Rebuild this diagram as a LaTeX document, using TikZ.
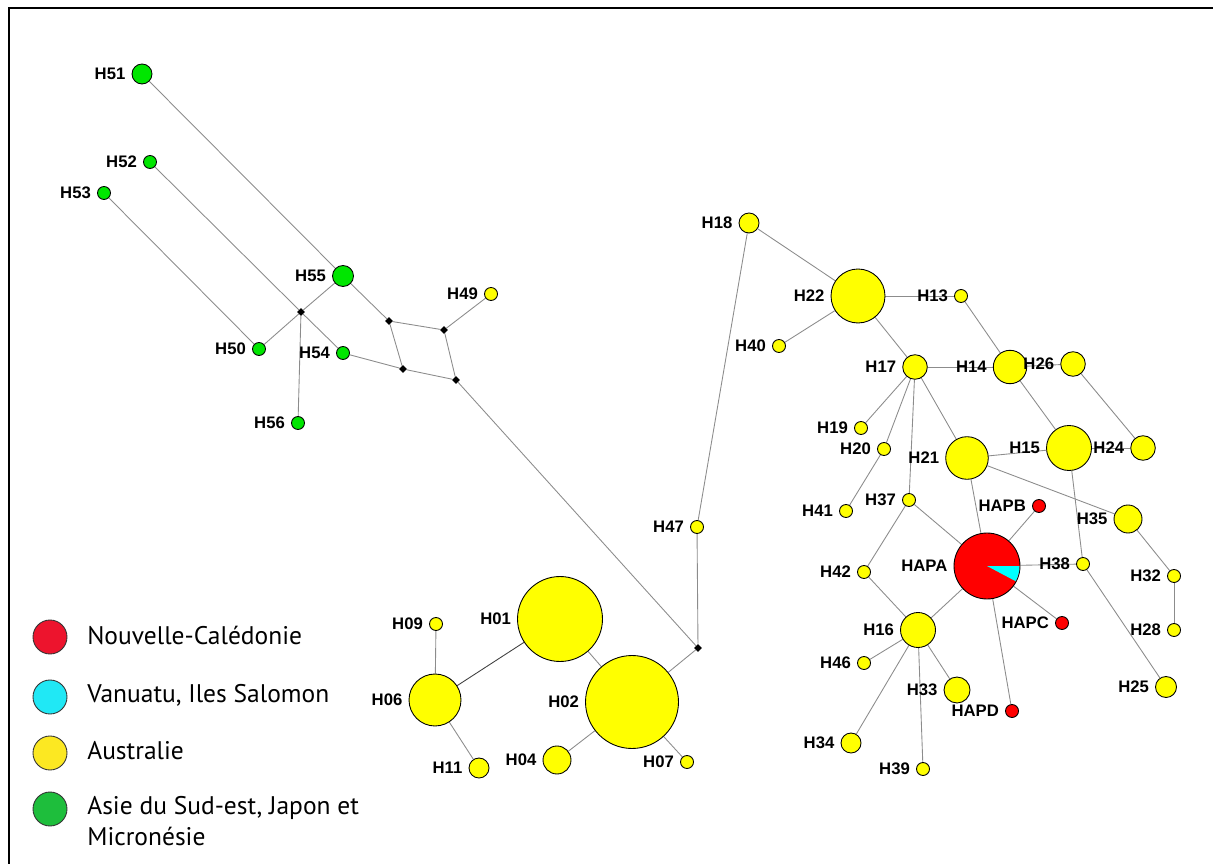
\documentclass[tikz,border=0pt]{standalone}
\usepackage{fontspec}
\setsansfont{Liberation Sans}
\newfontfamily\legendfont{PT Sans}
\usetikzlibrary{shapes.geometric,backgrounds}
\definecolor{hapyellow}{RGB}{255,255,0}
\definecolor{hapgreen}{RGB}{0,230,0}
\definecolor{hapred}{RGB}{255,0,0}
\definecolor{hapcyan}{RGB}{0,255,255}
\definecolor{keyred}{RGB}{237,20,45}
\definecolor{keycyan}{RGB}{32,232,245}
\definecolor{keyyellow}{RGB}{252,232,34}
\definecolor{keygreen}{RGB}{30,190,60}
\definecolor{linkgray}{RGB}{140,140,140}
\begin{document}
\begin{tikzpicture}[x=0.02cm,y=-0.02cm,
    hap/.style={circle,draw=black,line width=0.5pt,inner sep=0pt,minimum size=#1*0.4mm},
    aus/.style={hap=#1,fill=hapyellow},
    asia/.style={hap=#1,fill=hapgreen},
    nc/.style={hap=#1,fill=hapred},
    mv/.style={diamond,fill=black,inner sep=0pt,minimum size=1.6mm},
    lbl/.style={font=\sffamily\bfseries\fontsize{9.5}{11}\selectfont},
    link/.style={draw=linkgray,line width=0.5pt},
    key/.style={circle,draw=black!80,line width=0.5pt,minimum size=6.8mm},
    keytext/.style={anchor=west,inner sep=0pt,font=\legendfont\fontsize{14.5}{18}\selectfont,align=left}]
    \useasboundingbox (0,0) rectangle (1213,864);
    \draw[line width=1.5pt] (9,864) -- (9,8) -- (1213,8);
    \node[asia=10,label={[lbl]left:H51}] (h51) at (142,74) {};
    \node[asia=6.5,label={[lbl]left:H52}] (h52) at (150,162) {};
    \node[asia=6.5,label={[lbl]left:H53}] (h53) at (104,193) {};
    \node[asia=10.5,label={[lbl]left:H55}] (h55) at (343,276) {};
    \node[asia=6.5,label={[lbl]left:H50}] (h50) at (259,349) {};
    \node[asia=6.5,label={[lbl]left:H54}] (h54) at (343,353) {};
    \node[asia=6.5,label={[lbl]left:H56}] (h56) at (298,423) {};
    \node[aus=6.5,label={[lbl]left:H49}] (h49) at (491,294) {};
    \node[mv] (m1) at (301,312) {};
    \node[mv] (m2) at (389,321) {};
    \node[mv] (m3) at (444,330) {};
    \node[mv] (m4) at (403,369) {};
    \node[mv] (m5) at (456,380) {};
    \node[mv] (m6) at (698,648) {};
    \node[aus=42.5,label={[lbl]left:H01}] (h01) at (560,619) {};
    \node[aus=46.5,label={[lbl]left:H02}] (h02) at (632,702) {};
    \node[aus=26,label={[lbl]left:H06}] (h06) at (435,700) {};
    \node[aus=6.5,label={[lbl]left:H09}] (h09) at (436,624) {};
    \node[aus=10,label={[lbl]left:H11}] (h11) at (479,768) {};
    \node[aus=14,label={[lbl]left:H04}] (h04) at (557,760) {};
    \node[aus=6.5,label={[lbl]left:H07}] (h07) at (687,762) {};
    \node[aus=6.5,label={[lbl]left:H47}] (h47) at (697,527) {};
    \node[aus=10,label={[lbl]left:H18}] (h18) at (749,223) {};
    \node[aus=27,label={[lbl]left:H22}] (h22) at (858,296) {};
    \node[aus=6.5,label={[lbl]left:H13}] (h13) at (961,296) {};
    \node[aus=6.5,label={[lbl]left:H40}] (h40) at (779,346) {};
    \node[aus=12.3,label={[lbl]left:H17}] (h17) at (915,367) {};
    \node[aus=16.7,label={[lbl]left:H14}] (h14) at (1010,367) {};
    \node[aus=12.3,label={[lbl]left:H26}] (h26) at (1073,364) {};
    \node[aus=6.5,label={[lbl]left:H19}] (h19) at (861,428) {};
    \node[aus=6.5,label={[lbl]left:H20}] (h20) at (884,449) {};
    \node[aus=21.3,label={[lbl]left:H21}] (h21) at (967,458) {};
    \node[aus=22.5,label={[lbl]left:H15}] (h15) at (1069,448) {};
    \node[aus=12.3,label={[lbl]left:H24}] (h24) at (1143,448) {};
    \node[aus=6.5,label={[lbl]left:H41}] (h41) at (846,511) {};
    \node[aus=6.5,label={[lbl]left:H37}] (h37) at (909,500) {};
    \node[aus=14,label={[lbl]left:H35}] (h35) at (1128,519) {};
    \node[aus=6.5,label={[lbl]left:H38}] (h38) at (1083,564) {};
    \node[aus=6.5,label={[lbl]left:H42}] (h42) at (864,572) {};
    \node[aus=6.5,label={[lbl]left:H32}] (h32) at (1174,576) {};
    \node[aus=6.5,label={[lbl]left:H28}] (h28) at (1174,630) {};
    \node[aus=17.5,label={[lbl]left:H16}] (h16) at (918,630) {};
    \node[aus=6.5,label={[lbl]left:H46}] (h46) at (864,663) {};
    \node[aus=13,label={[lbl]left:H33}] (h33) at (957,690) {};
    \node[aus=10.5,label={[lbl]left:H25}] (h25) at (1166,687) {};
    \node[aus=10,label={[lbl]left:H34}] (h34) at (851,743) {};
    \node[aus=6.5,label={[lbl]left:H39}] (h39) at (923,769) {};
    \node[nc=33,label={[lbl]left:HAPA}] (hapa) at (987,566) {};
    \node[nc=6.5,label={[lbl]left:HAPB}] (hapb) at (1039,506) {};
    \node[nc=6.5,label={[lbl]left:HAPC}] (hapc) at (1062,623) {};
    \node[nc=6.5,label={[lbl]left:HAPD}] (hapd) at (1012,711) {};
    \fill[hapcyan] (hapa.center) -- ++(-28:0.65cm) arc[start angle=-28,end angle=0,radius=0.65cm] -- cycle;
    \begin{scope}[on background layer]
        \draw[link] (h51) -- (h55);
        \draw[link] (h55) -- (m2);
        \draw[link] (h52) -- (m1);
        \draw[link] (m1) -- (h54);
        \draw[link] (h53) -- (h50);
        \draw[link] (m1) -- (h55);
        \draw[link] (m1) -- (h50);
        \draw[link] (m1) -- (h56);
        \draw[link] (h54) -- (m4);
        \draw[link] (m2) -- (m3);
        \draw[link] (m2) -- (m4);
        \draw[link] (m3) -- (m5);
        \draw[link] (m4) -- (m5);
        \draw[link] (m3) -- (h49);
        \draw[link] (m5) -- (m6);
        \draw[link] (m6) -- (h47);
        \draw[link] (m6) -- (h02);
        \draw[link] (h09) -- (h06);
        \draw[link,draw=black!75] (h06) -- (h01);
        \draw[link] (h06) -- (h11);
        \draw[link] (h01) -- (h02);
        \draw[link] (h02) -- (h04);
        \draw[link] (h02) -- (h07);
        \draw[link] (h47) -- (h18);
        \draw[link] (h18) -- (h22);
        \draw[link] (h22) -- (h13);
        \draw[link] (h22) -- (h40);
        \draw[link] (h22) -- (h17);
        \draw[link] (h13) -- (h14);
        \draw[link] (h17) -- (h14);
        \draw[link] (h14) -- (h26);
        \draw[link] (h14) -- (h15);
        \draw[link] (h26) -- (h24);
        \draw[link] (h15) -- (h24);
        \draw[link] (h17) -- (h19);
        \draw[link] (h17) -- (h20);
        \draw[link] (h20) -- (h41);
        \draw[link] (h17) -- (h37);
        \draw[link] (h17) -- (h21);
        \draw[link] (h21) -- (h15);
        \draw[link] (h21) -- (h35);
        \draw[link] (h21) -- (hapa);
        \draw[link] (h15) -- (h38);
        \draw[link] (hapa) -- (hapb);
        \draw[link] (hapa) -- (h38);
        \draw[link] (hapa) -- (hapc);
        \draw[link] (hapa) -- (hapd);
        \draw[link] (hapa) -- (h16);
        \draw[link] (hapa) -- (h37);
        \draw[link] (h37) -- (h42);
        \draw[link] (h42) -- (h16);
        \draw[link] (h16) -- (h46);
        \draw[link] (h16) -- (h34);
        \draw[link] (h16) -- (h39);
        \draw[link] (h16) -- (h33);
        \draw[link] (h38) -- (h25);
        \draw[link] (h35) -- (h32);
        \draw[link] (h32) -- (h28);
    \end{scope}
    \node[key,fill=keyred] (kred) at (50,637) {};
    \node[keytext] (tred) at (87,635) {Nouvelle-Calédonie};
    \node[key,fill=keycyan] (kcyan) at (50,697) {};
    \node[keytext] (tcyan) at (87,695) {Vanuatu, Iles Salomon};
    \node[key,fill=keyyellow] (kyellow) at (50,753) {};
    \node[keytext] (tyellow) at (87,751) {Australie};
    \node[key,fill=keygreen] (kgreen) at (50,809) {};
    \node[keytext] (tgreen) at (87,821) {Asie du Sud-est, Japon et\\Micronésie};
\end{tikzpicture}
\end{document}
